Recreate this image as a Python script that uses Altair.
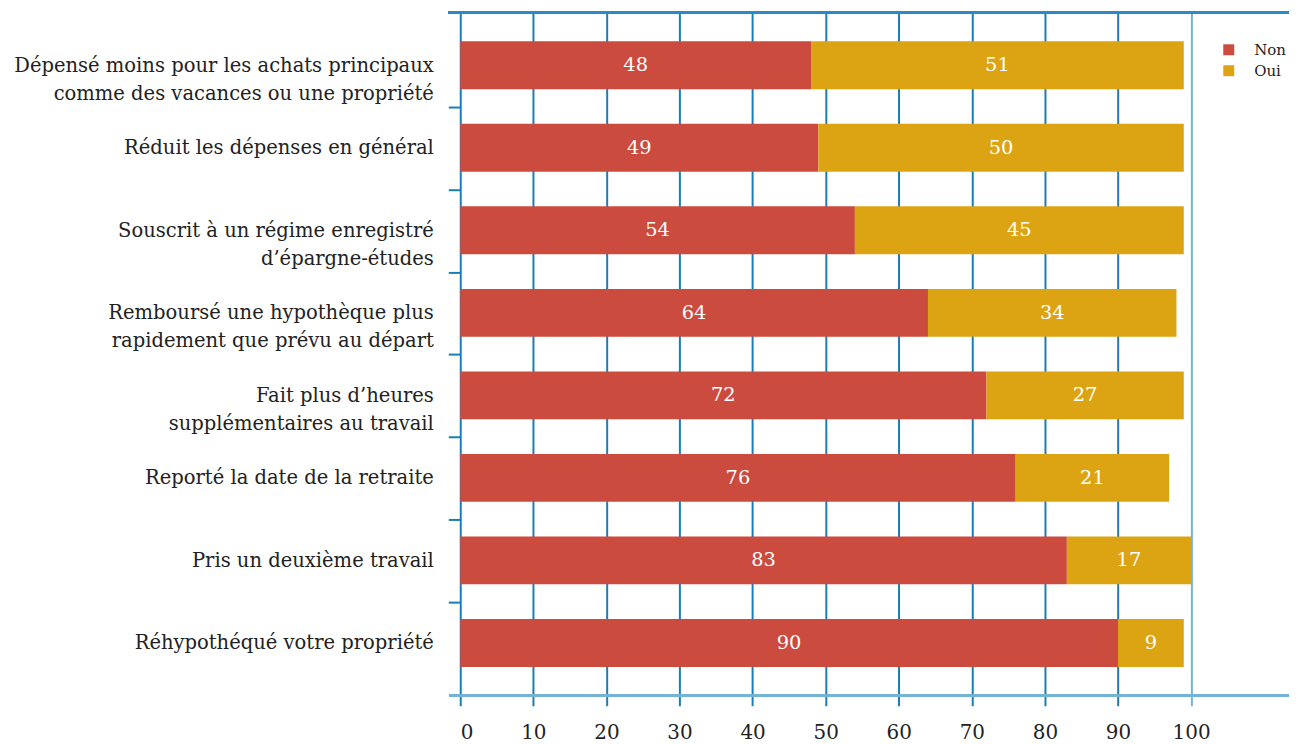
import altair as alt
import pandas as pd

categories = [
    "Dépensé moins pour les achats principaux|comme des vacances ou une propriété",
    "Réduit les dépenses en général",
    "Souscrit à un régime enregistré|d’épargne-études",
    "Remboursé une hypothèque plus|rapidement que prévu au départ",
    "Fait plus d’heures|supplémentaires au travail",
    "Reporté la date de la retraite",
    "Pris un deuxième travail",
    "Réhypothéqué votre propriété",
]
non_values = [48, 49, 54, 64, 72, 76, 83, 90]
oui_values = [51, 50, 45, 34, 27, 21, 17, 9]
series = ["Non", "Oui"]
colors = ["#cc4b3f", "#dca412"]
x_ticks = [0, 10, 20, 30, 40, 50, 60, 70, 80, 90, 100]

rows = []
for c, n, o in zip(categories, non_values, oui_values):
    rows.append({"cat": c, "rep": "Non", "val": n, "ord": 0})
    rows.append({"cat": c, "rep": "Oui", "val": o, "ord": 1})
df = pd.DataFrame(rows)

W, H = 832, 686
FONT = "DejaVu Serif"
DARK = "#1b7db7"
LIGHT = "#74b3d4"

base = alt.Chart(df).transform_stack(
    stack="val", groupby=["cat"], as_=["x0", "x1"], sort=[{"field": "ord", "order": "ascending"}]
).transform_calculate(mid="(datum.x0 + datum.x1) / 2")

xscale = alt.Scale(domain=[0, 113.4], nice=False, zero=False)
yscale = alt.Scale(domain=categories, paddingInner=0.42, paddingOuter=0.35)

bars = base.mark_bar().encode(
    x=alt.X("x0:Q", scale=xscale, title=None,
            axis=alt.Axis(values=x_ticks, grid=True, domain=False,
                          gridColor={"condition": {"test": "datum.value === 100", "value": LIGHT}, "value": DARK},
                          gridWidth=2,
                          tickColor={"condition": {"test": "datum.value === 100", "value": LIGHT}, "value": DARK},
                          tickWidth=2, tickSize=10,
                          labelFont=FONT, labelFontSize=20, labelColor="#222222", labelPadding=17)),
    x2="x1:Q",
    y=alt.Y("cat:N", scale=yscale, sort=categories, title=None,
            axis=alt.Axis(domain=False, grid=False, tickSize=12, tickWidth=2,
                          tickOffset=-41, labelOffset=41,
                          tickColor={"condition": {"test": "indexof(datum.value, 'Dépensé') === 0", "value": "transparent"}, "value": DARK},
                          labelExpr="split(datum.label, '|')",
                          labelFont=FONT, labelFontSize=19.6, labelColor="#222222",
                          labelLineHeight=28, labelPadding=15, labelLimit=600)),
    color=alt.Color("rep:N", scale=alt.Scale(domain=series, range=colors), title=None,
                    legend=alt.Legend(orient="none", legendX=764, legendY=30,
                                      symbolType="square", symbolSize=121, symbolStrokeWidth=0,
                                      labelFont=FONT, labelFontSize=15, labelColor="#222222",
                                      rowPadding=5, labelOffset=18)),
)

labels = base.mark_text(font=FONT, fontSize=19.5, color="white", baseline="middle").encode(
    x=alt.X("mid:Q", scale=xscale),
    y=alt.Y("cat:N", scale=yscale, sort=categories),
    text="val:Q",
)

top_line = alt.Chart(df).mark_rule(color="#2a8bc2", strokeWidth=2).encode(
    x=alt.value(-12), x2=alt.value(W), y=alt.value(0)
)
bottom_line = alt.Chart(df).mark_rule(color=LIGHT, strokeWidth=2).encode(
    x=alt.value(-11), x2=alt.value(W), y=alt.value(H)
)

chart = alt.layer(bars, labels, top_line, bottom_line).properties(
    width=W, height=H, padding={"left": 5, "top": 2, "right": 3, "bottom": 3}
).configure_view(stroke=None)

chart.save("out.html", embed_options={"renderer": "svg", "actions": False})
